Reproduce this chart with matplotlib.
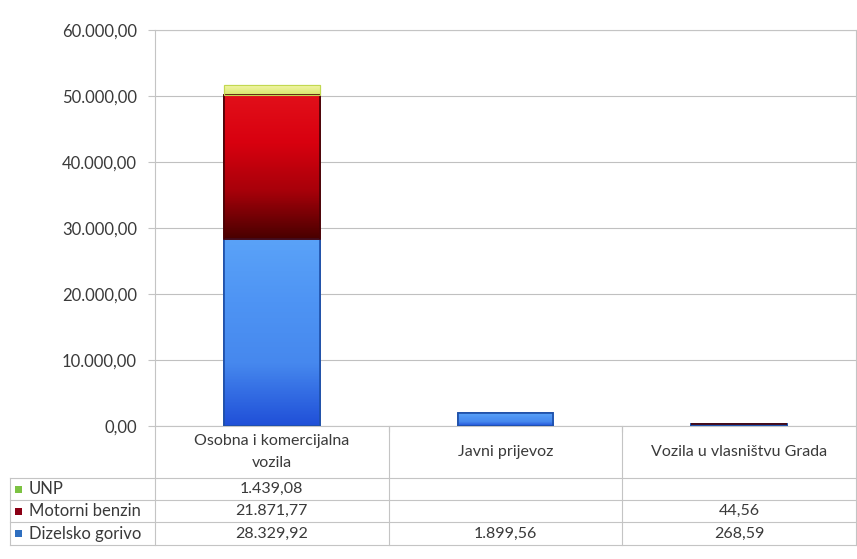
import numpy as np
import matplotlib.pyplot as plt
from matplotlib.patches import Rectangle
from matplotlib.lines import Line2D
from matplotlib.ticker import FuncFormatter
from matplotlib.colors import LinearSegmentedColormap

categories = ['Osobna i komercijalna\nvozila', 'Javni prijevoz', 'Vozila u vlasništvu Grada']
series_names = ['UNP', 'Motorni benzin', 'Dizelsko gorivo']
dizel = [28329.92, 1899.56, 268.59]
benzin = [21871.77, 0, 44.56]
unp = [1439.08, 0, 0]

# bottom -> top gradient colours of each series
grad_colors = [('#d8e86a', '#f2f5a8'),
               ('#4a0000', '#a8000a', '#d8000f', '#e2101a'),
               ('#2050d8', '#4688ee', '#4e94f4', '#5aa2f8')]
edge_colors = ['#c2d850', '#4a0004', '#1d4fa8']
legend_colors = ['#7cc242', '#8b0015', '#2f6fc0']

W, H = 857, 559
plt.rcParams['font.family'] = ['Lato', 'DejaVu Sans']
text_color = '#3a3a3a'
line_color = '#c4c4c4'


def fx(px):
    return px / W


def fy(py):
    return 1 - py / H


def hr_fmt(v):
    s = f'{v:,.2f}'
    return s.replace(',', '#').replace('.', ',').replace('#', '.')


def draw_series(ax, vals, bottom, colors, edge, lw):
    x = range(len(vals))
    edges = [edge if v > 0 else 'none' for v in vals]
    bars = ax.bar(x, vals, 0.41, bottom=bottom, color=colors[-1], edgecolor=edges,
                  linewidth=lw, zorder=3)
    cmap = LinearSegmentedColormap.from_list('g', list(colors))
    grad = np.linspace(0, 1, 64).reshape(-1, 1)
    for rect, v in zip(bars, vals):
        if v <= 0:
            continue
        x0, y0 = rect.get_x(), rect.get_y()
        img = ax.imshow(grad, cmap=cmap, origin='lower', aspect='auto', zorder=3.5,
                        extent=(x0, x0 + rect.get_width(), y0, y0 + rect.get_height()))
        img.set_clip_path(rect)
    # redraw edges on top of the gradient
    ax.bar(x, vals, 0.41, bottom=bottom, color='none', edgecolor=edges, linewidth=lw, zorder=4)


def main():
    fig = plt.figure(figsize=(W / 100, H / 100), dpi=100)
    ax = fig.add_axes([fx(155), fy(426), fx(856) - fx(155), (426 - 30) / H])

    draw_series(ax, dizel, 0, grad_colors[2], edge_colors[2], 1.2)
    draw_series(ax, benzin, dizel, grad_colors[1], edge_colors[1], 1.2)
    bottom2 = [d + b for d, b in zip(dizel, benzin)]
    draw_series(ax, unp, bottom2, grad_colors[0], edge_colors[0], 0.8)

    ax.set_xlim(-0.5, len(categories) - 0.5)
    ax.set_ylim(0, 60000)
    ax.set_yticks(range(0, 60001, 10000))
    ax.yaxis.set_major_formatter(FuncFormatter(lambda v, p: hr_fmt(v)))
    ax.tick_params(axis='y', length=5, color=line_color, labelsize=12, labelcolor=text_color, pad=8)
    ax.set_xticks([0.5, 1.5])
    ax.set_xticklabels([])
    ax.tick_params(axis='x', length=4, color=line_color)
    ax.grid(axis='y', color='#c0c0c0', linewidth=0.8, zorder=0)
    for s in ax.spines.values():
        s.set_color(line_color)

    # data table under the plot
    col_edges = [155 + i * (856 - 155) / 3 for i in range(4)]
    rows_y = [426, 478, 500, 522, 545]
    for yy in rows_y[1:]:
        fig.add_artist(Line2D([fx(10), fx(856)], [fy(yy), fy(yy)], color=line_color, lw=0.8))
    for xx in col_edges:
        fig.add_artist(Line2D([fx(xx), fx(xx)], [fy(426), fy(545)], color=line_color, lw=0.8))
    fig.add_artist(Line2D([fx(10), fx(10)], [fy(478), fy(545)], color=line_color, lw=0.8))

    for i, cat in enumerate(categories):
        cx = (col_edges[i] + col_edges[i + 1]) / 2
        fig.text(fx(cx), fy(452), cat, ha='center', va='center', fontsize=11.5,
                 color=text_color, linespacing=1.7)

    table_rows = [unp, benzin, dizel]
    for r, (name, vals) in enumerate(zip(series_names, table_rows)):
        cy = (rows_y[r + 1] + rows_y[r + 2]) / 2
        fig.add_artist(Rectangle((fx(15), fy(cy + 3.5)), 7 / W, 7 / H,
                                 facecolor=legend_colors[r], edgecolor='none'))
        fig.text(fx(29), fy(cy), name, ha='left', va='center', fontsize=12, color=text_color)
        for i, v in enumerate(vals):
            if v:
                cx = (col_edges[i] + col_edges[i + 1]) / 2
                fig.text(fx(cx), fy(cy), hr_fmt(v), ha='center', va='center', fontsize=11.5,
                         color=text_color)

    fig.savefig('out.png', dpi=100)


if __name__ == '__main__':
    main()
